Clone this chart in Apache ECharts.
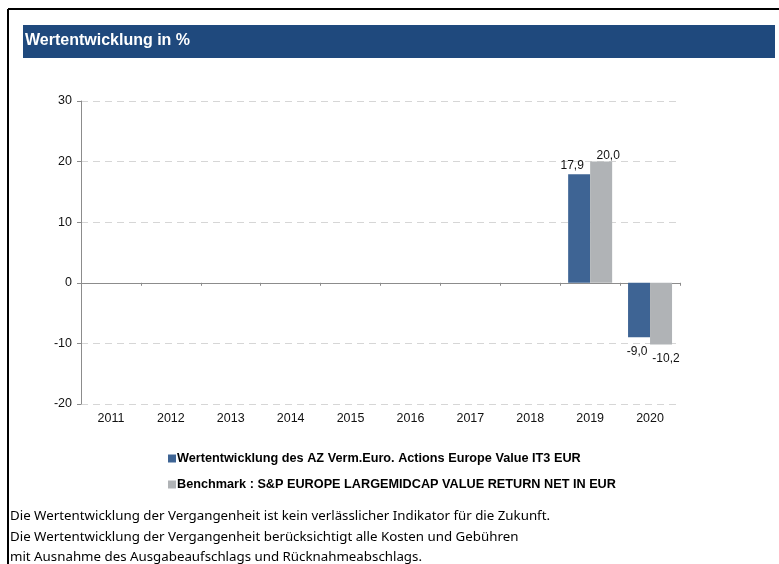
<!DOCTYPE html>
<html>
<head>
<meta charset="utf-8">
<script src="https://cdn.jsdelivr.net/npm/echarts@6/dist/echarts.min.js"></script>
<style>
  html, body { margin: 0; padding: 0; background: #fff; }
  #chart { width: 779px; height: 564px; }
</style>
</head>
<body>
<div id="chart"></div>
<script>
const years = ['2011', '2012', '2013', '2014', '2015', '2016', '2017', '2018', '2019', '2020']
const fundValues = [null, null, null, null, null, null, null, null, 17.9, -9.0]
const benchmarkValues = [null, null, null, null, null, null, null, null, 20.0, -10.2]
const fundName = 'Wertentwicklung des AZ Verm.Euro. Actions Europe Value IT3 EUR'
const benchmarkName = 'Benchmark : S&P EUROPE LARGEMIDCAP VALUE RETURN NET IN EUR'
const footerLines = [
  'Die Wertentwicklung der Vergangenheit ist kein verlässlicher Indikator für die Zukunft.',
  'Die Wertentwicklung der Vergangenheit berücksichtigt alle Kosten und Gebühren',
  'mit Ausnahme des Ausgabeaufschlags und Rücknahmeabschlags.'
]

const ARIAL = 'Liberation Sans'
const chart = echarts.init(document.getElementById('chart'))

const fmt = (p) => (p.value == null ? '' : p.value.toFixed(1).replace('.', ','))

// bar labels: above for positive values, below for negative ones
const withLabels = (vals, dx, upDist) => vals.map((v) => {
  if (v == null) return v
  return v < 0
    ? { value: v, label: { position: 'bottom', distance: 8, offset: [dx < 0 ? -2 : 5, 0] } }
    : { value: v, label: { position: 'top', distance: upDist, offset: [dx, 0] } }
})

chart.setOption({
  backgroundColor: '#fff',
  animation: false,
  graphic: [
    // frame
    { type: 'line', shape: { x1: 8, y1: 9, x2: 779, y2: 9 }, style: { stroke: '#000', lineWidth: 2 } },
    { type: 'line', shape: { x1: 8, y1: 9, x2: 8, y2: 564 }, style: { stroke: '#000', lineWidth: 2 } },
    // header bar
    { type: 'rect', shape: { x: 23, y: 25, width: 752, height: 33 }, style: { fill: '#1f497d' } },
    {
      type: 'text', left: 25, top: 33,
      style: { text: 'Wertentwicklung in %', fill: '#fff', font: 'bold 16px "Liberation Sans", Arial, sans-serif' }
    },
    ...footerLines.map((t, i) => ({
      type: 'text', left: 10, top: 510 + i * 20.5,
      style: { text: t, fill: '#000', font: '13.3px "Noto Sans", sans-serif' }
    }))
  ],
  legend: {
    orient: 'vertical',
    left: 163,
    top: 447,
    itemGap: 13,
    itemWidth: 8,
    itemHeight: 8,
    icon: 'rect',
    selectedMode: false,
    textStyle: { fontSize: 12.7, fontWeight: 'bold', fontFamily: ARIAL, color: '#000', padding: [0, 0, 0, -4] },
    data: [fundName, benchmarkName]
  },
  grid: { left: 81, top: 101, right: 99, bottom: 160 },
  xAxis: [
    {
      type: 'category',
      data: years,
      axisLine: { onZero: true, lineStyle: { color: '#8c8c8c' } },
      axisTick: { show: true, length: 3, lineStyle: { color: '#8c8c8c' } },
      axisLabel: { show: false }
    },
    {
      type: 'category',
      data: years,
      position: 'bottom',
      axisLine: { show: false, onZero: false },
      axisTick: { show: false },
      axisLabel: { color: '#111', fontSize: 12.5, fontFamily: ARIAL, margin: 8 }
    }
  ],
  yAxis: {
    type: 'value',
    min: -20,
    max: 30,
    interval: 10,
    axisLine: { show: true, lineStyle: { color: '#8c8c8c' } },
    axisTick: { show: true, length: 4, lineStyle: { color: '#8c8c8c' } },
    axisLabel: { color: '#111', fontSize: 12.5, fontFamily: ARIAL, margin: 9 },
    splitLine: { lineStyle: { color: '#d6d6d6', type: [7, 5] } }
  },
  series: [
    {
      name: fundName,
      type: 'bar',
      xAxisIndex: 0,
      data: withLabels(fundValues, -7, 3),
      barWidth: 22,
      barGap: '0%',
      itemStyle: { color: '#3e6494' },
      label: { show: true, formatter: fmt, color: '#111', fontSize: 12, fontFamily: ARIAL }
    },
    {
      name: benchmarkName,
      type: 'bar',
      xAxisIndex: 0,
      data: withLabels(benchmarkValues, 7, 0),
      barWidth: 22,
      barGap: '0%',
      itemStyle: { color: '#b0b3b6' },
      label: { show: true, formatter: fmt, color: '#111', fontSize: 12, fontFamily: ARIAL }
    }
  ]
})
</script>
</body>
</html>
